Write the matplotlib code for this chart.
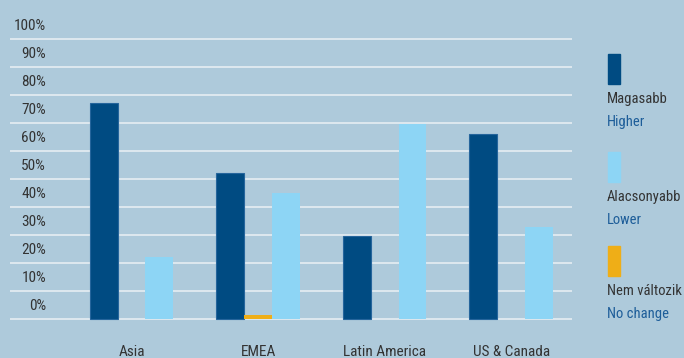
import matplotlib
matplotlib.use("Agg")
import matplotlib.pyplot as plt
from matplotlib import font_manager, transforms
from matplotlib.patches import Rectangle

# ---- data -------------------------------------------------------------
regions = ["Asia", "EMEA", "Latin America", "US & Canada"]
higher = [77, 52, 29.5, 66]
no_change = [0, 1.5, 0, 0]
lower = [22, 45, 69.5, 33]

y_ticks = [0, 10, 20, 30, 40, 50, 60, 70, 80, 90, 100]
y_tick_labels = [f"{v}%" for v in y_ticks]

legend_hu = ["Magasabb", "Alacsonyabb", "Nem változik"]
legend_en = ["Higher", "Lower", "No change"]

# ---- style ------------------------------------------------------------
BG = "#aecadb"
DARK = "#004b82"
LIGHT = "#8dd5f5"
GOLD = "#efae17"
GRID = "#e1ebf1"
TEXT = "#333333"
EN_TEXT = "#1d5d99"

available = {f.name for f in font_manager.fontManager.ttflist}
family = "DejaVu Sans"
for cand in ["Liberation Sans Narrow", "Roboto Condensed", "Open Sans Condensed",
             "Noto Sans Condensed"]:
    if cand in available:
        family = cand
        break
plt.rcParams["font.family"] = [family, "DejaVu Sans"]
plt.rcParams["font.stretch"] = "condensed"

W, H = 684, 358
fig = plt.figure(figsize=(W / 100, H / 100), dpi=100, facecolor=BG)

ax = fig.add_axes([10 / W, 33.4 / H, 562 / W, 299.6 / H])
ax.set_facecolor(BG)
for s in ax.spines.values():
    s.set_visible(False)

x = list(range(len(regions)))
w = 0.22
ax.bar([i - w for i in x], higher, width=w, color=DARK, edgecolor="#25659c",
       linewidth=0.8, zorder=3)
ax.bar(x, no_change, width=w, color=GOLD, linewidth=0, zorder=3)
ax.bar([i + w for i in x], lower, width=w, color=LIGHT, linewidth=0, zorder=3)

ax.set_xlim(-0.96, 3.48)
ax.set_ylim(-2, 105)

# horizontal grid lines at each tick
for v in y_ticks:
    ax.axhline(v, color=GRID, linewidth=1.3, zorder=1)

ax.set_yticks([])
ax.set_xticks(x)
ax.set_xticklabels(regions, fontsize=11, color=TEXT)
ax.tick_params(axis="x", length=0, pad=15)

# y labels sit between the grid lines, just above their own line
lab_tr = transforms.blended_transform_factory(ax.transAxes, ax.transData) + \
    transforms.ScaledTranslation(0, 13 / 100, fig.dpi_scale_trans)
for v, lab in zip(y_ticks, y_tick_labels):
    ax.text(36 / 562, v, lab, transform=lab_tr, ha="right", va="center",
            fontsize=11, color=TEXT)

# ---- legend -----------------------------------------------------------
colors = [DARK, LIGHT, GOLD]
patch_tops = [54, 152, 246]
for c, top, hu, en in zip(colors, patch_tops, legend_hu, legend_en):
    fig.patches.append(Rectangle((608 / W, (H - top - 29.5) / H), 12 / W, 29.5 / H,
                                 transform=fig.transFigure, color=c))
    fig.text(607 / W, (H - (top + 45)) / H, hu, ha="left", va="center",
             fontsize=10.5, color=TEXT)
    fig.text(607 / W, (H - (top + 68)) / H, en, ha="left", va="center",
             fontsize=10.5, color=EN_TEXT)

fig.savefig("out.png", dpi=100, facecolor=BG)
